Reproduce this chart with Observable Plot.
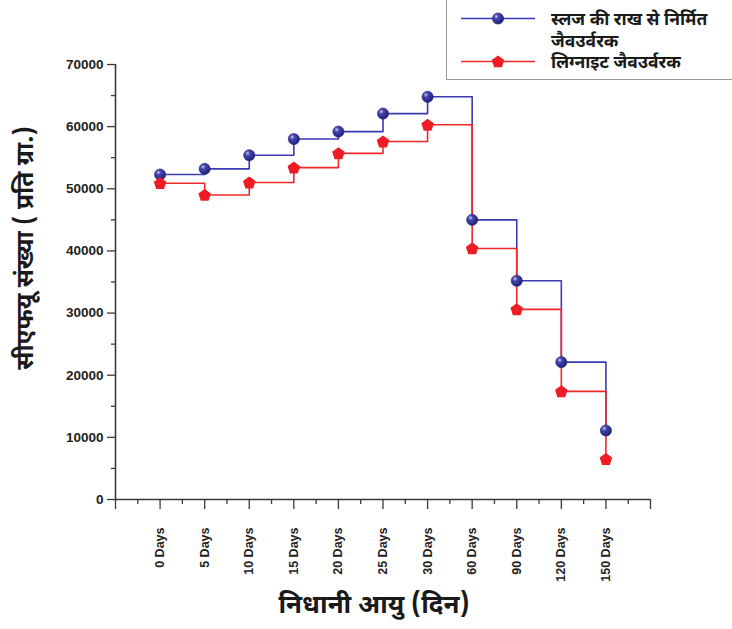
<!DOCTYPE html>
<html>
<head>
<meta charset="utf-8">
<script src="https://cdn.jsdelivr.net/npm/d3@7"></script>
<script src="https://cdn.jsdelivr.net/npm/@observablehq/plot@0.6"></script>
<style>
  body { margin: 0; background: #fff; }
  #wrap { position: relative; width: 732px; height: 629px; overflow: hidden; }
  #legend { position: absolute; left: 446px; top: -2px; width: 300px; height: 80px;
            border: 1.5px solid #9a9a9a; background: #fff; }
</style>
</head>
<body>
<svg width="0" height="0" style="position:absolute">
  <defs>
    <radialGradient id="blueBall" cx="35%" cy="32%" r="70%">
      <stop offset="0%" stop-color="#c9c9f0"/>
      <stop offset="30%" stop-color="#4646b0"/>
      <stop offset="100%" stop-color="#1e1e78"/>
    </radialGradient>
  </defs>
</svg>
<div id="wrap"></div>
<script>
// ---- data ----
const categories = ["0 Days", "5 Days", "10 Days", "15 Days", "20 Days", "25 Days", "30 Days", "60 Days", "90 Days", "120 Days", "150 Days"];
const sludgeAsh = [52300, 53200, 55400, 58000, 59200, 62100, 64800, 45000, 35200, 22100, 11100];
const lignite = [50900, 49000, 51000, 53400, 55700, 57600, 60300, 40400, 30600, 17400, 6500];
const seriesNames = ["स्लज की राख से निर्मित जैवउर्वरक", "लिग्नाइट जैवउर्वरक"];
const yTicks = [0, 10000, 20000, 30000, 40000, 50000, 60000, 70000];
const xTitle = "निधानी आयु (दिन)";
const yTitle = "सीएफयू संख्या ( प्रति ग्रा.)";

const blueLine = "#3a3ab4", blueMark = "url(#blueBall)";
const redLine = "#f0282a", redMark = "#ee1c24";
const axisColor = "#3a3a3a";
const devFont = '"Noto Sans Devanagari", "Lohit Devanagari", "FreeSans", "Noto Sans", sans-serif';

const rows = [];
categories.forEach((c, i) => {
  rows.push({i, cat: c, v: sludgeAsh[i], s: seriesNames[0]});
  rows.push({i, cat: c, v: lignite[i], s: seriesNames[1]});
});
const blueRows = rows.filter(d => d.s === seriesNames[0]);
const redRows = rows.filter(d => d.s === seriesNames[1]);

const pentagon = {
  draw(ctx, size) {
    const r = Math.sqrt(size / Math.PI) * 1.2;
    for (let k = 0; k < 5; k++) {
      const a = -Math.PI / 2 + k * 2 * Math.PI / 5;
      const x = r * Math.cos(a), y = r * Math.sin(a) + r * 0.08;
      if (k === 0) ctx.moveTo(x, y); else ctx.lineTo(x, y);
    }
    ctx.closePath();
  }
};

const majorX = d3.range(-1, categories.length + 1);
const minorX = d3.range(-0.5, categories.length + 0.5, 1);
const minorY = d3.range(5000, 70000, 10000);

const chart = Plot.plot({
  width: 732,
  height: 629,
  marginLeft: 115,
  marginRight: 82,
  marginTop: 64,
  marginBottom: 130,
  style: {fontFamily: '"Liberation Sans", Arial, sans-serif', background: "transparent", overflow: "visible"},
  x: {type: "linear", domain: [-1, categories.length], axis: null},
  y: {domain: [0, 70000], axis: null},
  marks: [
    // minor ticks
    Plot.axisX({ticks: minorX, tickSize: 5, tickFormat: () => "", label: null, stroke: axisColor, strokeWidth: 1.3}),
    Plot.axisY({ticks: minorY, tickSize: 4, tickFormat: () => "", label: null, stroke: axisColor, strokeWidth: 1.3}),
    // major ticks
    Plot.axisX({ticks: majorX, tickSize: 10, tickPadding: 18, tickRotate: -90, label: null,
      tickFormat: d => categories[d] ?? "", stroke: axisColor, strokeWidth: 1.3,
      fontSize: 12.5, fontWeight: "bold", fill: "#222"}),
    Plot.axisY({ticks: yTicks, tickSize: 8, tickPadding: 4, tickFormat: d => String(d), label: null,
      stroke: axisColor, strokeWidth: 1.3, fontSize: 13.5, fontWeight: "bold", fill: "#222"}),
    // axis lines
    Plot.ruleX([-1], {stroke: axisColor, strokeWidth: 1.6}),
    Plot.ruleY([0], {stroke: axisColor, strokeWidth: 1.6}),
    // series
    Plot.line(blueRows, {x: "i", y: "v", curve: "step-after", stroke: blueLine, strokeWidth: 1.6}),
    Plot.line(redRows, {x: "i", y: "v", curve: "step-after", stroke: redLine, strokeWidth: 1.6}),
    Plot.dot(blueRows, {x: "i", y: "v", r: 5.6, fill: blueMark, stroke: "#24247e", strokeWidth: 0.6}),
    Plot.dot(redRows, {x: "i", y: "v", r: 5.5, symbol: pentagon, fill: redMark, stroke: "none"}),
    // axis titles
    Plot.text([xTitle], {frameAnchor: "bottom", textAnchor: "middle", lineAnchor: "middle", dx: -9, dy: 105,
      fontSize: 26, fontWeight: "bold", fontFamily: devFont, fill: "#1a1a1a"}),
    Plot.text([yTitle], {frameAnchor: "left", textAnchor: "middle", lineAnchor: "middle", dx: -90, dy: -34,
      rotate: -90, fontSize: 24.5, fontWeight: "bold", fontFamily: devFont, fill: "#1a1a1a"})
  ]
});
document.getElementById("wrap").appendChild(chart);

// ---- legend ----
const leg = d3.select("#wrap").append("div").attr("id", "legend");
const lsvg = leg.append("svg").attr("width", 300).attr("height", 80).style("overflow", "visible");
const entries = [
  {lines: ["स्लज की राख से निर्मित", "जैवउर्वरक"], y: 19.5, stroke: blueLine, mark: "circle"},
  {lines: ["लिग्नाइट जैवउर्वरक"], y: 62.5, stroke: redLine, mark: "pentagon"}
];
entries.forEach(e => {
  lsvg.append("line").attr("x1", 14).attr("x2", 88).attr("y1", e.y).attr("y2", e.y)
    .attr("stroke", e.stroke).attr("stroke-width", 1.6);
  if (e.mark === "circle") {
    lsvg.append("circle").attr("cx", 51).attr("cy", e.y).attr("r", 5.6)
      .attr("fill", blueMark).attr("stroke", "#24247e").attr("stroke-width", 0.6);
  } else {
    lsvg.append("path").attr("transform", `translate(51,${e.y})`)
      .attr("d", d3.symbol(pentagon, Math.PI * 5.5 * 5.5)()).attr("fill", redMark);
  }
  e.lines.forEach((t, k) => {
    lsvg.append("text").attr("x", 104).attr("y", e.y + 6.5 + k * 22)
      .attr("font-family", devFont).attr("font-size", 17.5).attr("font-weight", "bold")
      .attr("fill", "#1a1a1a").text(t);
  });
});
</script>
</body>
</html>
